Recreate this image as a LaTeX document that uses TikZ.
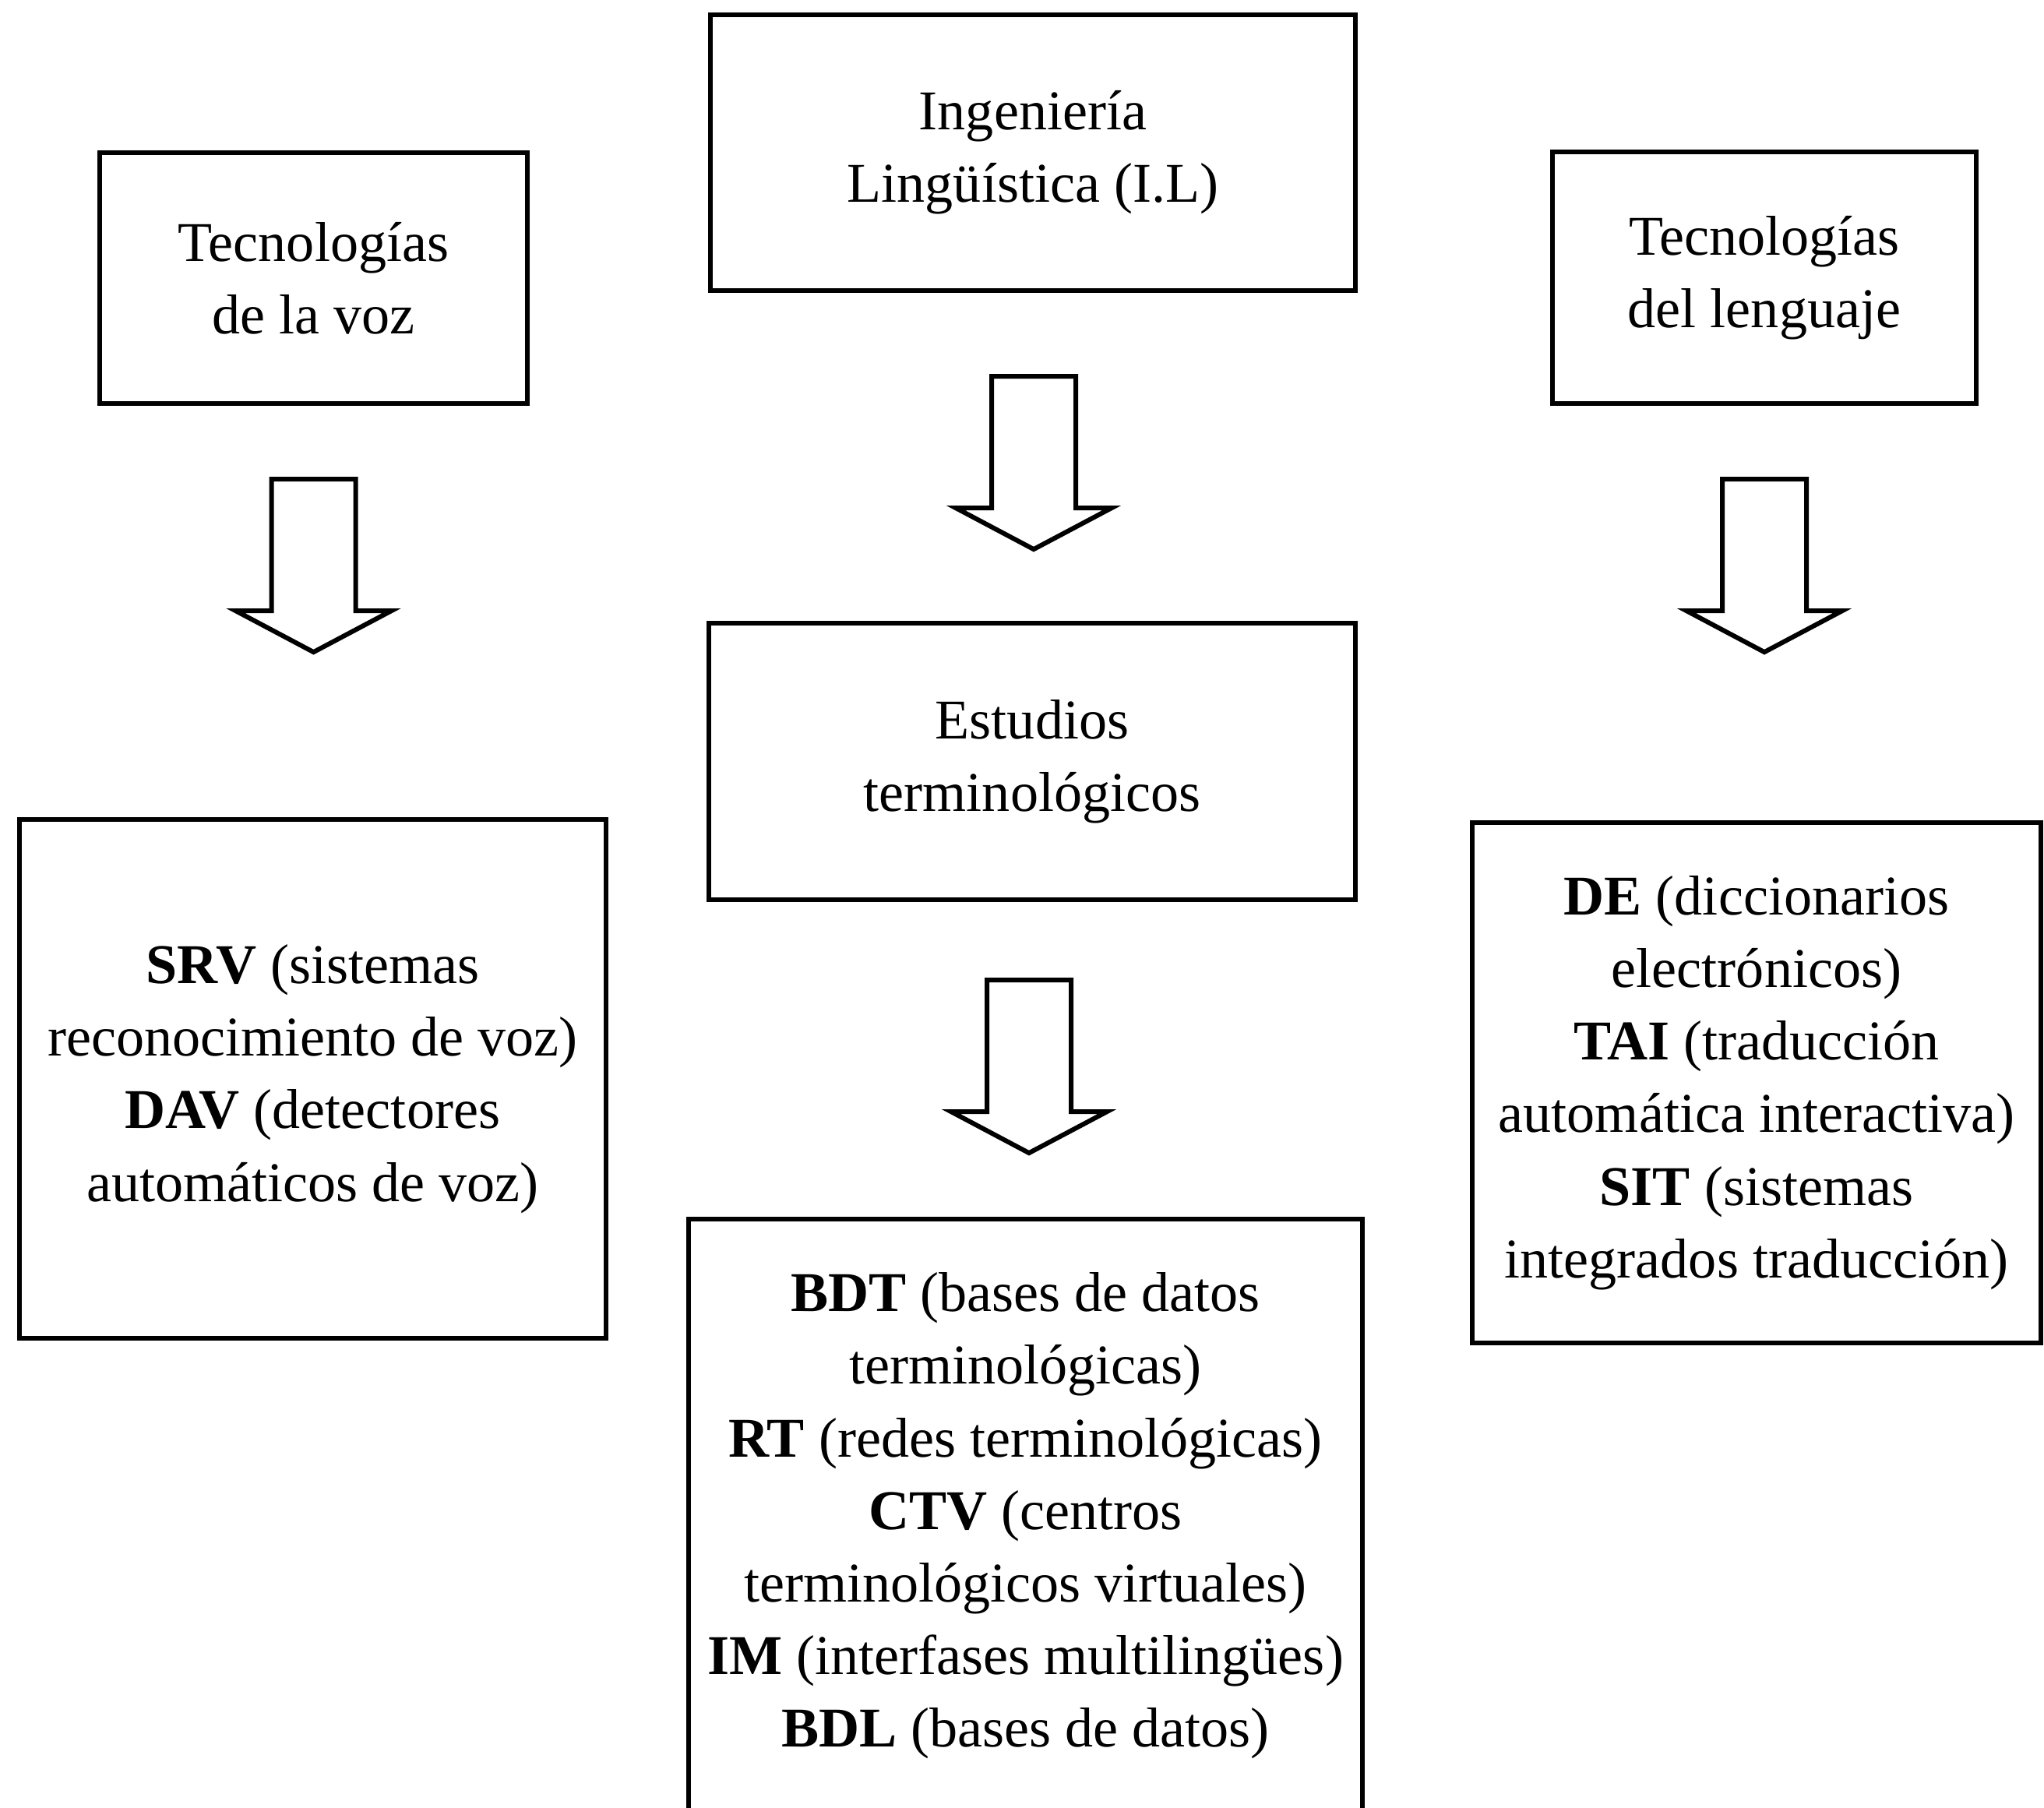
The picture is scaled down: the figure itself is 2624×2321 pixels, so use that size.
\documentclass[tikz,border=0pt]{standalone}
\usepackage{fontspec}
\setmainfont{Liberation Serif}
\usetikzlibrary{calc}
\tikzset{box/.style={draw, line width=0.06cm, align=center, inner sep=0pt, font=\fontsize{20.5}{26.5}\selectfont}}
\tikzset{down arrow/.pic={\draw[line width=0.06cm, fill=white] (-54,0) -- (54,0) -- (54,169) -- (100,169) -- (0,222) -- (-100,169) -- (-54,169) -- cycle;}}

\begin{document}
\begin{tikzpicture}[x=0.01cm, y=-0.01cm]
            \useasboundingbox (0,0) rectangle (2624,2321);
            \clip (0,0) rectangle (2624,2321);
            % top row
            \node[box, minimum width=8.28cm, minimum height=3.54cm] (ing) at (1326,196) {Ingeniería\\Lingüística (I.L)};
            \node[box, minimum width=5.49cm, minimum height=3.22cm] (voz) at (402.5,357) {Tecnologías\\de la voz};
            \node[box, minimum width=5.44cm, minimum height=3.23cm] (len) at (2265,356.5) {Tecnologías\\del lenguaje};
            \node[box, minimum width=8.30cm, minimum height=3.55cm] (est) at (1325,977.5) {Estudios\\terminológicos};
            % lower row
            \node[box, minimum width=7.53cm, minimum height=6.66cm] (srv) at (401.5,1385) {\textbf{SRV} (sistemas\\reconocimiento de voz)\\\textbf{DAV} (detectores\\automáticos de voz)};
            \node[box, minimum width=7.30cm, minimum height=6.68cm] (de) at (2255,1390) {\textbf{DE} (diccionarios\\electrónicos)\\\textbf{TAI} (traducción\\automática interactiva)\\\textbf{SIT} (sistemas\\integrados traducción)};
            \node[box, minimum width=8.65cm, minimum height=7.62cm] (bdt) at (1316.5,1946) {\textbf{BDT} (bases de datos\\terminológicas)\\\textbf{RT} (redes terminológicas)\\\textbf{CTV} (centros\\terminológicos virtuales)\\\textbf{IM} (interfases multilingües)\\\textbf{BDL} (bases de datos)};
            % arrows
            \pic at ($(ing.south)+(1,107)$) {down arrow};
            \pic at ($(voz.south)+(0,94)$) {down arrow};
            \pic at ($(len.south)+(0,94)$) {down arrow};
            \pic at ($(est.south)+(-4,100)$) {down arrow};
        \end{tikzpicture}
\end{document}
